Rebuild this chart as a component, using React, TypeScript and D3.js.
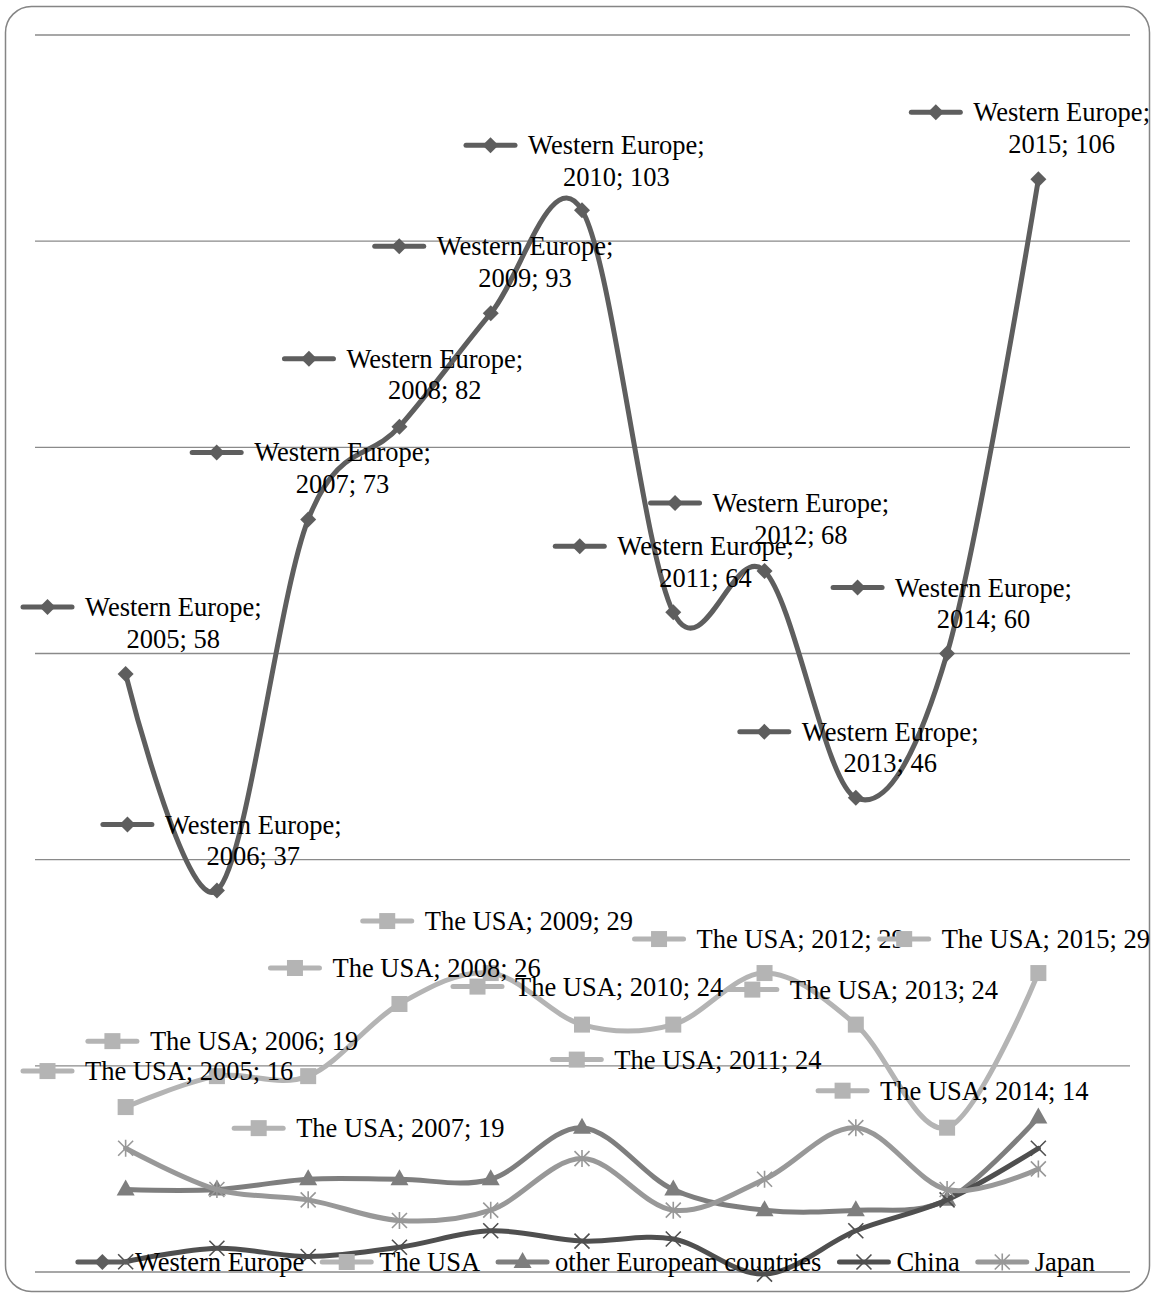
import React, { useEffect, useRef } from 'react';
import * as d3 from 'd3';

// Chart data
const years = ['2005', '2006', '2007', '2008', '2009', '2010', '2011', '2012', '2013', '2014', '2015'];
const westernEurope = [58, 37, 73, 82, 93, 103, 64, 68, 46, 60, 106];
const theUSA = [16, 19, 19, 26, 29, 24, 24, 29, 24, 14, 29];
const otherEuropean = [8, 8, 9, 9, 9, 14, 8, 6, 6, 7, 15];
const china = [1, 2.3, 1.5, 2.4, 4, 3, 3.2, -0.2, 4, 7, 12];
const japan = [12, 8, 7, 5, 6, 11, 6, 9, 14, 8, 10];
const yTicks = [0, 20, 40, 60, 80, 100, 120];

// label placement (offsets from the point, in px)
const weLabelDx = [-119, -117, -119, -118, -119, -119, -121, -117, -119, -117, -119];
const weLabelDy = [-67, -66, -67, -68, -67, -65, -66, -68, -66, -66, -67];
const usaLabelDx = [-132, -132, -77, -132, -131, -132, -124, -133, -131, -132, -132];
const usaLabelDy = [-36, -35, 52, -36, -52, -38, 35, -34, -35, -37, -34];

type Marker = 'diamond' | 'square' | 'triangle' | 'x' | 'star';

interface Series {
  name: string;
  values: number[];
  color: string;
  marker: Marker;
  markerColor: string;
}

const series: Series[] = [
  { name: 'Western Europe', values: westernEurope, color: '#5e5e5e', marker: 'diamond', markerColor: '#5e5e5e' },
  { name: 'The USA', values: theUSA, color: '#b4b4b4', marker: 'square', markerColor: '#b4b4b4' },
  { name: 'other European countries', values: otherEuropean, color: '#7e7e7e', marker: 'triangle', markerColor: '#7e7e7e' },
  { name: 'China', values: china, color: '#4f4f4f', marker: 'x', markerColor: '#4f4f4f' },
  { name: 'Japan', values: japan, color: '#989898', marker: 'star', markerColor: '#989898' }
];

const W = 1155;
const H = 1297;
const FONT = '"Liberation Serif", "Times New Roman", serif';
const FS = 26.5;

function drawMarker(g: d3.Selection<SVGGElement, unknown, null, undefined>, type: Marker, x: number, y: number, color: string) {
  if (type === 'diamond') {
    const r = 8;
    g.append('path')
      .attr('d', `M${x},${y - r}L${x + r},${y}L${x},${y + r}L${x - r},${y}Z`)
      .attr('fill', color);
  } else if (type === 'square') {
    g.append('rect')
      .attr('x', x - 8).attr('y', y - 8)
      .attr('width', 16).attr('height', 16)
      .attr('fill', color);
  } else if (type === 'triangle') {
    g.append('path')
      .attr('d', `M${x},${y - 10}L${x + 9},${y + 6}L${x - 9},${y + 6}Z`)
      .attr('fill', color);
  } else if (type === 'x') {
    const r = 7.5;
    g.append('path')
      .attr('d', `M${x - r},${y - r}L${x + r},${y + r}M${x - r},${y + r}L${x + r},${y - r}`)
      .attr('stroke', color).attr('stroke-width', 1.6).attr('fill', 'none');
  } else {
    const r = 7.5;
    g.append('path')
      .attr('d', `M${x - r},${y - r}L${x + r},${y + r}M${x - r},${y + r}L${x + r},${y - r}M${x},${y - r - 1}L${x},${y + r + 1}`)
      .attr('stroke', color).attr('stroke-width', 1.6).attr('fill', 'none');
  }
}

function drawKey(g: d3.Selection<SVGGElement, unknown, null, undefined>, s: Series, x: number, y: number) {
  g.append('line')
    .attr('x1', x + 3).attr('x2', x + 52)
    .attr('y1', y).attr('y2', y)
    .attr('stroke', s.color)
    .attr('stroke-width', 5)
    .attr('stroke-linecap', 'round');
  drawMarker(g, s.marker, x + 27.5, y, s.markerColor);
}

const App: React.FC = () => {
  const svgRef = useRef<SVGSVGElement>(null);

  useEffect(() => {
    if (!svgRef.current) return;
    const svg = d3.select(svgRef.current);
    svg.selectAll('*').remove();

    const plotLeft = 35;
    const plotRight = 1130;

    const x = d3.scalePoint<string>().domain(years).range([80, 1084]).padding(0.5);
    const y = d3.scaleLinear().domain([0, 120]).range([1272, 35]);

    // chart border
    svg.append('rect')
      .attr('x', 5.5).attr('y', 6.5)
      .attr('width', 1144).attr('height', 1285)
      .attr('rx', 26).attr('ry', 26)
      .attr('fill', '#fff')
      .attr('stroke', '#858585')
      .attr('stroke-width', 1.5);

    // gridlines
    svg.append('g')
      .selectAll('line')
      .data(yTicks)
      .enter()
      .append('line')
      .attr('x1', plotLeft).attr('x2', plotRight)
      .attr('y1', d => y(d)).attr('y2', d => y(d))
      .attr('stroke', '#8a8a8a')
      .attr('stroke-width', 1.3);

    const line = d3.line<number>()
      .x((_d, i) => x(years[i]) || 0)
      .y(d => y(d))
      .curve(d3.curveCardinal.tension(0));

    // lines and markers
    series.forEach(s => {
      const g = svg.append('g');
      g.append('path')
        .attr('d', line(s.values) || '')
        .attr('fill', 'none')
        .attr('stroke', s.color)
        .attr('stroke-width', 5)
        .attr('stroke-linecap', 'round')
        .attr('stroke-linejoin', 'round');
      s.values.forEach((v, i) => drawMarker(g, s.marker, x(years[i]) || 0, y(v), s.markerColor));
    });

    // data labels
    const labels = svg.append('g')
      .style('font-family', FONT)
      .style('font-size', `${FS}px`)
      .attr('fill', '#000');

    const weS = series[0];
    westernEurope.forEach((v, i) => {
      const px = x(years[i]) || 0;
      const py = y(v);
      const g = labels.append('g');
      const t1 = g.append('text').text('Western Europe;').attr('dominant-baseline', 'central');
      const tw = (t1.node() as SVGTextElement).getComputedTextLength();
      const blockW = 65 + tw;
      const left = Math.max(20, Math.min(W - 5 - blockW, px + weLabelDx[i]));
      const ly = py + weLabelDy[i];
      drawKey(g, weS, left, ly);
      t1.attr('x', left + 65).attr('y', ly);
      g.append('text')
        .text(`${years[i]}; ${v}`)
        .attr('dominant-baseline', 'central')
        .attr('text-anchor', 'middle')
        .attr('x', left + 65 + tw / 2)
        .attr('y', ly + 31.5);
      t1.raise();
    });

    const usaS = series[1];
    theUSA.forEach((v, i) => {
      const px = x(years[i]) || 0;
      const py = y(v);
      const g = labels.append('g');
      const t1 = g.append('text').text(`The USA; ${years[i]}; ${v}`).attr('dominant-baseline', 'central');
      const tw = (t1.node() as SVGTextElement).getComputedTextLength();
      const blockW = 65 + tw;
      const left = Math.max(20, Math.min(W - 5 - blockW, px + usaLabelDx[i]));
      const ly = py + usaLabelDy[i];
      drawKey(g, usaS, left, ly);
      t1.attr('x', left + 65).attr('y', ly);
      t1.raise();
    });

    // legend
    const legend = svg.append('g')
      .style('font-family', FONT)
      .style('font-size', `${FS}px`);
    const items = series.map(s => {
      const g = legend.append('g');
      const t = g.append('text').text(s.name).attr('dominant-baseline', 'central');
      const tw = (t.node() as SVGTextElement).getComputedTextLength();
      return { g, t, tw, s };
    });
    const keyW = 60;
    const gap = 15;
    const total = d3.sum(items, d => keyW + d.tw) + gap * (items.length - 1);
    let cx = 585 - total / 2;
    const legendY = 1262;
    items.forEach(it => {
      drawKey(it.g, it.s, cx, legendY);
      it.t.attr('x', cx + keyW).attr('y', legendY);
      it.t.raise();
      cx += keyW + it.tw + gap;
    });
  }, []);

  return (
    <svg
      ref={svgRef}
      width={W}
      height={H}
      style={{ display: 'block', position: 'absolute', left: 0, top: 0, background: '#fff' }}
    />
  );
};

export default App;
